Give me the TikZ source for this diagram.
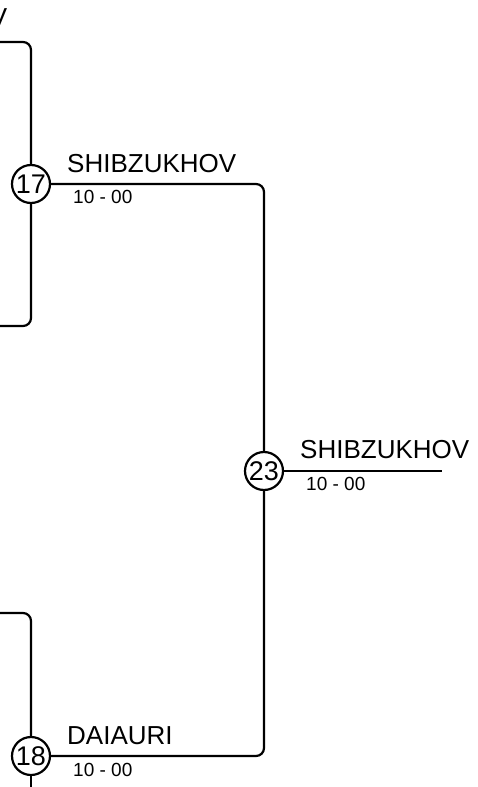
\documentclass[tikz,border=0pt]{standalone}
\usepackage{fontspec}
\setmainfont{Liberation Sans}
\usetikzlibrary{positioning, calc}

\begin{document}
\begin{tikzpicture}[
    x=1pt, y=-1pt,
    bout/.style={circle, draw=black, line width=2.2pt, minimum size=38pt, inner sep=0pt, font=\fontsize{27}{27}\selectfont},
    player/.style={inner sep=0pt, anchor=base west, font=\fontsize{26}{26}\selectfont},
    score/.style={inner sep=0pt, anchor=base west, font=\fontsize{19}{19}\selectfont},
    bracket/.style={line width=2.2pt, rounded corners=8pt}
]
\useasboundingbox (0,0) rectangle (477,787);

% Bouts
\node[bout] (b17) at (31,184) {17};
\node[bout] (b23) at (264,471) {23};
\node[bout] (b18) at (31,756) {18};

% Free ends
\coordinate (in17a) at (0,42);
\coordinate (in17b) at (0,326);
\coordinate (in18a) at (0,613);
\coordinate (in18b) at (31,787);
\coordinate (out23) at (442,471);

% Winners
\node[player, anchor=base east] (prev) at (7.5,27) {V};
\node[player] (w17) at ([shift={(36,-12)}]b17.center) {SHIBZUKHOV};
\node[score] (s17) at ([shift={(42,19)}]b17.center) {10 - 00};
\node[player] (w23) at ([shift={(36,-13)}]b23.center) {SHIBZUKHOV};
\node[score] (s23) at ([shift={(42,19)}]b23.center) {10 - 00};
\node[player] (w18) at ([shift={(36,-12)}]b18.center) {DAIAURI};
\node[score] (s18) at ([shift={(42,20)}]b18.center) {10 - 00};

% Brackets
\draw[bracket] (in17a) -| (b17.north);
\draw[bracket] (in17b) -| (b17.south);
\draw[bracket] (in18a) -| (b18.north);
\draw[bracket] (b18.south) -- (in18b);
\draw[bracket] (b17.east) -| (b23.north);
\draw[bracket] (b18.east) -| (b23.south);
\draw[bracket] (b23.east) -- (out23);
\end{tikzpicture}
\end{document}
